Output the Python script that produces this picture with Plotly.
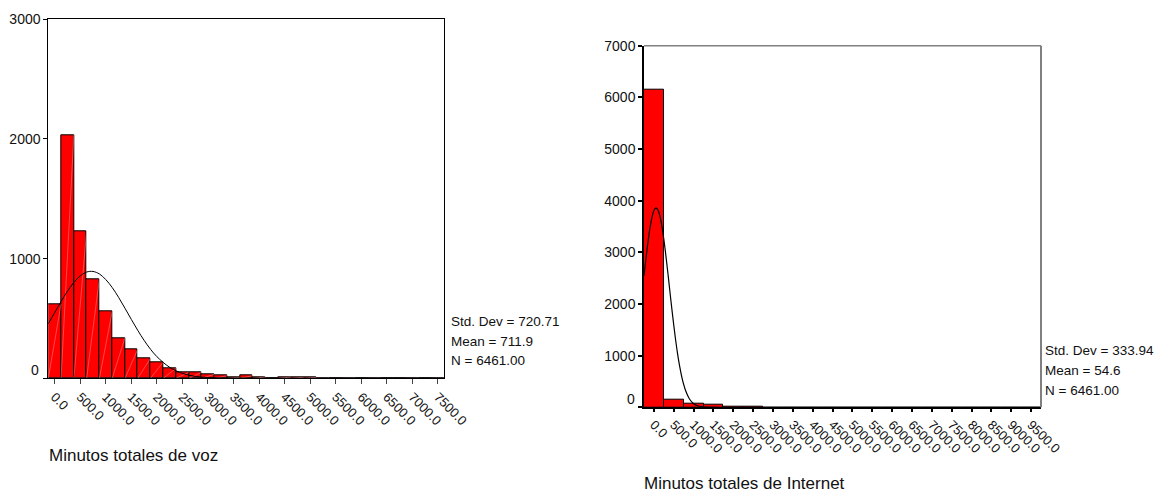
import plotly.graph_objects as go

# ---------------- data ----------------
# Left histogram: Minutos totales de voz (bin width 250, bins centred on these values)
voz_centers = [0, 250, 500, 750, 1000, 1250, 1500, 1750, 2000, 2250, 2500, 2750,
               3000, 3250, 3500, 3750, 4000, 4250, 4500, 4750, 5000, 5250, 5500,
               5750, 6000, 6250, 6500, 6750, 7000, 7250, 7500]
voz_counts = [620, 2033, 1228, 830, 557, 337, 242, 167, 136, 84, 50, 50,
              33, 22, 8, 22, 11, 0, 10, 8, 8, 1, 0, 1, 0, 1, 0, 0, 1, 0, 1]
voz_bin_width = 250
voz_ticks = [0, 500, 1000, 1500, 2000, 2500, 3000, 3500, 4000, 4500, 5000,
             5500, 6000, 6500, 7000, 7500]
voz_yticks = [0, 1000, 2000, 3000]
# normal curve
voz_curve_x = [-125, 0, 125, 250, 375, 500, 625, 750, 875, 1000, 1125, 1250, 1375,
               1500, 1625, 1750, 1875, 2000, 2250, 2500, 2750, 3000, 3250, 3500, 4000]
voz_curve_y = [456, 549, 642, 728, 801, 856, 888, 893, 872, 825, 759, 677, 586,
               492, 401, 317, 243, 181, 92, 41, 16, 6, 2, 0.5, 0]
voz_stats = ["Std. Dev = 720.71", "Mean = 711.9", "N = 6461.00"]
voz_title = "Minutos totales de voz"

# Right histogram: Minutos totales de Internet (bin width 500)
net_centers = [0, 500, 1000, 1500, 2000, 2500, 3000, 3500, 4000, 4500, 5000,
               5500, 6000, 6500, 7000, 7500, 8000, 8500, 9000, 9500]
net_counts = [6156, 155, 75, 55, 4, 3, 2, 2, 1, 1, 1, 1, 1, 0, 1, 0, 1, 0, 1, 1]
net_bin_width = 500
net_ticks = net_centers
net_yticks = [0, 1000, 2000, 3000, 4000, 5000, 6000, 7000]
net_curve_x = [-250, -200, -150, -100, -50, 0, 50, 100, 150, 200, 250, 300, 350,
               400, 450, 500, 550, 600, 650, 700, 750, 800, 900, 1000, 1100, 1200,
               1400, 1600]
net_curve_y = [2546, 2885, 3198, 3467, 3674, 3808, 3859, 3823, 3705, 3510, 3252,
               2946, 2609, 2260, 1914, 1585, 1284, 1016, 787, 596, 441, 320, 156,
               70, 29, 11, 1.2, 0]
net_stats = ["Std. Dev = 333.94", "Mean = 54.6", "N = 6461.00"]
net_title = "Minutos totales de Internet"

FONT = "Liberation Sans, Arial, sans-serif"
W, H = 1155, 493

fig = go.Figure()

# ---- left chart ----
fig.add_trace(go.Bar(x=voz_centers, y=voz_counts, width=voz_bin_width,
                     marker=dict(color="#ff0000", line=dict(color="black", width=1)),
                     xaxis="x", yaxis="y", showlegend=False, hoverinfo="skip"))
# faint seam diagonals across each bar (rendering artefact of the original)
seam_x, seam_y = [], []
for c, h in zip(voz_centers, voz_counts):
    if h > 0:
        seam_x += [c - voz_bin_width / 2, c + voz_bin_width / 2, None]
        seam_y += [0, h, None]
fig.add_trace(go.Scatter(x=seam_x, y=seam_y, mode="lines",
                         line=dict(color="rgba(255,170,170,0.7)", width=0.6),
                         xaxis="x", yaxis="y", showlegend=False, hoverinfo="skip"))
fig.add_trace(go.Scatter(x=voz_curve_x, y=voz_curve_y, mode="lines",
                         line=dict(color="black", width=1, shape="spline"),
                         xaxis="x", yaxis="y", showlegend=False, hoverinfo="skip"))

# ---- right chart ----
fig.add_trace(go.Bar(x=net_centers, y=net_counts, width=net_bin_width,
                     marker=dict(color="#ff0000", line=dict(color="black", width=1)),
                     xaxis="x2", yaxis="y2", showlegend=False, hoverinfo="skip"))
fig.add_trace(go.Scatter(x=net_curve_x, y=net_curve_y, mode="lines",
                         line=dict(color="black", width=1.2, shape="spline"),
                         xaxis="x2", yaxis="y2", showlegend=False, hoverinfo="skip"))

tickfont = dict(family=FONT, size=14, color="#111111")
xtickfont = dict(family=FONT, size=13, color="#111111")
statfont = dict(family=FONT, size=13.5, color="#111111")

fig.update_layout(
    template="none",
    width=W, height=H,
    margin=dict(l=0, r=0, t=0, b=0, pad=0),
    paper_bgcolor="white", plot_bgcolor="white",
    bargap=0,
    xaxis=dict(domain=[48.3 / W, 444.3 / W], range=[-125, 7625], automargin=False,
               tickvals=voz_ticks, ticktext=[f"{v:.1f}" for v in voz_ticks],
               tickangle=45, tickfont=xtickfont, ticks="outside", ticklen=5,
               tickcolor="#444444", showgrid=False, zeroline=False,
               showline=True, linecolor="black", linewidth=1, mirror=True,
               anchor="y", fixedrange=True),
    yaxis=dict(domain=[1 - 378.3 / H, 1 - 19.3 / H], range=[0, 3000], automargin=False,
               tickvals=voz_yticks, ticktext=["" if v == 0 else str(v) for v in voz_yticks],
               tickfont=tickfont, ticks="outside", ticklen=4, tickcolor="black",
               showgrid=False, zeroline=False, showline=True, linecolor="black",
               linewidth=1, mirror=True, anchor="x", fixedrange=True),
    xaxis2=dict(domain=[644 / W, 1041 / W], range=[-250, 9750], automargin=False,
                tickvals=net_ticks, ticktext=[f"{v:.1f}" for v in net_ticks],
                tickangle=45, tickfont=xtickfont, ticks="outside", ticklen=3,
                tickwidth=2, tickcolor="black", showgrid=False, zeroline=False,
                showline=True, linecolor="black", linewidth=1.5, mirror=False,
                anchor="y2", fixedrange=True),
    yaxis2=dict(domain=[1 - 407.3 / H, 1 - 45.7 / H], range=[0, 7000], automargin=False,
                tickvals=net_yticks, ticktext=["" if v == 0 else str(v) for v in net_yticks],
                tickfont=tickfont, ticks="outside", ticklen=4, tickwidth=2,
                tickcolor="black", showgrid=False, zeroline=False, showline=True,
                linecolor="black", linewidth=1.5, mirror=False, anchor="x2",
                fixedrange=True),
)

# gray top / right frame of the right chart
fig.add_shape(type="line", xref="x2 domain", yref="y2 domain", x0=0, x1=1, y0=1, y1=1,
              line=dict(color="#808080", width=1.5))
fig.add_shape(type="line", xref="x2 domain", yref="y2 domain", x0=1, x1=1, y0=0, y1=1,
              line=dict(color="#808080", width=2))

# the "0" y labels sit slightly above the baseline in the original
for xr, yr in (("x domain", "y"), ("x2 domain", "y2")):
    fig.add_annotation(text="0", xref=xr, yref=yr, x=0, y=0, xanchor="right",
                       yanchor="middle", xshift=-7, yshift=8, showarrow=False,
                       font=tickfont)

# statistics boxes
for i, t in enumerate(voz_stats):
    fig.add_annotation(text=t, xref="paper", yref="paper", x=449 / W,
                       y=1 - (321.7 + 19.5 * i) / H, xanchor="left", yanchor="middle",
                       showarrow=False, font=statfont)
for i, t in enumerate(net_stats):
    fig.add_annotation(text=t, xref="paper", yref="paper", x=1043 / W,
                       y=1 - (350.5 + 20 * i) / H, xanchor="left", yanchor="middle",
                       showarrow=False, font=statfont)

# axis titles
fig.add_annotation(text=voz_title, xref="paper", yref="paper", x=47 / W, y=1 - 455 / H,
                   xanchor="left", yanchor="middle", showarrow=False,
                   font=dict(family=FONT, size=17, color="#111111"))
fig.add_annotation(text=net_title, xref="paper", yref="paper", x=642 / W, y=1 - 483 / H,
                   xanchor="left", yanchor="middle", showarrow=False,
                   font=dict(family=FONT, size=17, color="#111111"))

fig.write_html("out.html", config={"displayModeBar": False},
               post_script="document.body.style.margin='0';document.body.style.overflow='hidden';")
